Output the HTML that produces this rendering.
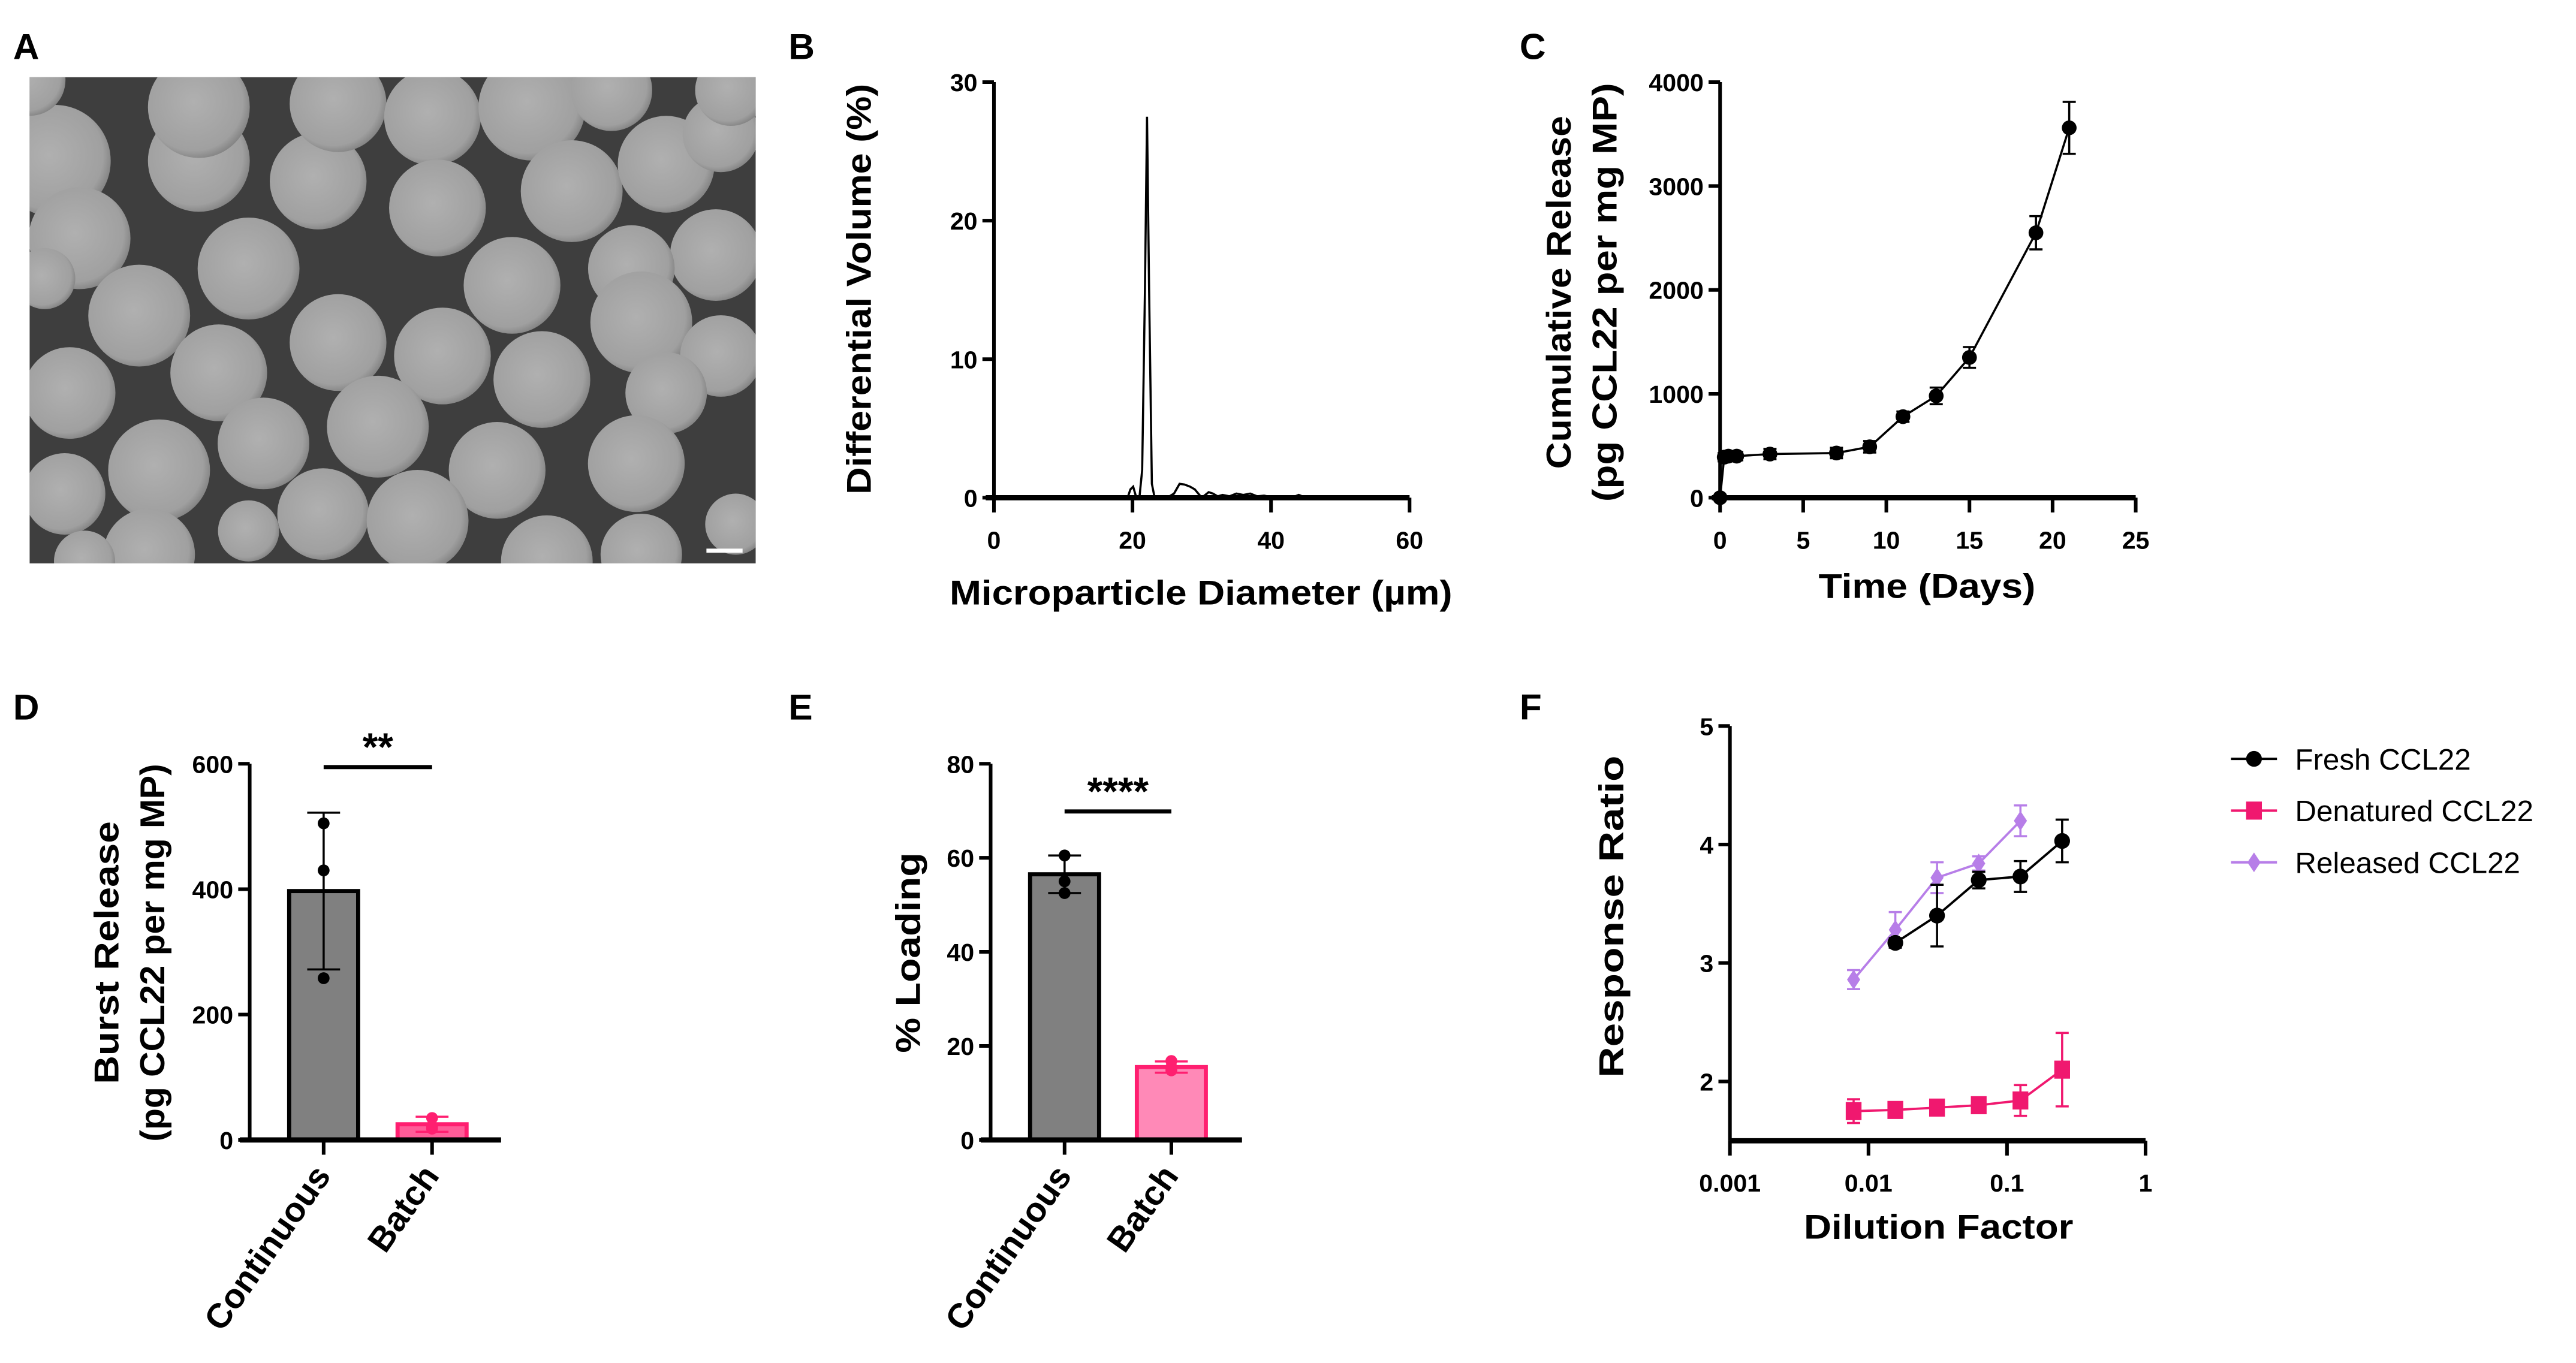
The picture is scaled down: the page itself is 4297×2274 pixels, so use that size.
<!DOCTYPE html>
<html><head><meta charset="utf-8"><style>
html,body{margin:0;padding:0;background:#fff;}
svg{display:block;}
text{font-family:"Liberation Sans",Arial,sans-serif;}
</style></head><body>
<svg id="fig" width="4297" height="2274" viewBox="0 0 1568 829.8" preserveAspectRatio="none" xmlns="http://www.w3.org/2000/svg">
<defs>
<radialGradient id="sph" cx="0.45" cy="0.45" r="0.6">
<stop offset="0" stop-color="#b0b0b0"/><stop offset="0.8" stop-color="#a0a0a0"/><stop offset="1" stop-color="#7a7a7a"/>
</radialGradient>
<clipPath id="clipA"><rect x="18" y="47" width="442" height="296"/></clipPath>
</defs>
</svg>
<script>
// ---------- DATA ----------
// Panel A sphere centres (from SEM image, zoom coords)
const sphX=[400,400,110,160,500,640,680,870,880,1070,1150,1340,1450,1440,1030,1270,1290,1450,1340,680,890,1090,280,440,140,530,760,320,130,1000,1280,650,840,500,300,1100,1290,1480,170,1230,60,1470,90];
const sphY=[300,140,300,530,620,360,130,170,440,140,390,310,220,580,670,620,780,880,990,840,880,950,760,930,990,1140,1090,1220,1290,1220,1200,1350,1370,1400,1470,1490,1470,1380,1490,90,60,90,650];
const sphR=[100,100,110,100,100,95,95,95,95,105,100,95,75,90,95,85,100,80,80,95,95,95,100,95,90,90,100,100,80,95,95,90,100,60,90,90,80,60,60,80,70,70,60];
// Panel B size distribution
const bX=[0,19.3,19.7,20.1,20.5,21.0,21.4,21.8,22.1,22.4,22.8,23.2,25,26,26.8,27.5,28.3,29,30,31,31.6,32.3,33,34,35,36,37,38,39,40,41,43,44,45,47];
const bY=[0,0,0.6,0.8,0.1,0,2,15,27.5,15,1,0,0,0.3,1.0,0.95,0.8,0.6,0,0.4,0.3,0.1,0.2,0.1,0.3,0.2,0.3,0.1,0.15,0.05,0,0,0.2,0,0];
const bXTicks=[0,20,40,60];
const bYTicks=[0,10,20,30];
// Panel C cumulative release
const cDays=[0,0.25,0.5,1,3,7,9,11,13,15,19,21];
const cRel=[0,390,400,400,420,430,490,780,980,1350,2550,3560];
const cErr=[0,40,40,40,50,50,55,50,80,100,160,250];
const cXTicks=[0,5,10,15,20,25];
const cYTicks=[0,1000,2000,3000,4000];
// Panel D burst release
const groups=["Continuous","Batch"];
const dMean=[397,25];
const dSD=[125,12];
const dPts=[[505,430,258],[35,22,18]];
const dYTicks=[0,200,400,600];
// Panel E loading
const eMean=[56.5,15.5];
const eSD=[4,1.2];
const ePts=[[60.5,55,52.5],[16.8,15.5,14.8]];
const eYTicks=[0,20,40,60,80];
// Panel F dose response
const fDil=[0.0078125,0.015625,0.03125,0.0625,0.125,0.25];
const fFresh=[null,3.17,3.40,3.70,3.73,4.03];
const fFreshErr=[0,0.04,0.26,0.07,0.13,0.18];
const fDen=[1.75,1.76,1.78,1.80,1.84,2.10];
const fDenErr=[0.10,0.06,0.03,0.05,0.13,0.31];
const fRel=[2.86,3.28,3.72,3.84,4.20,null];
const fRelErr=[0.08,0.15,0.13,0.06,0.13,0];
const fXTicks=[0.001,0.01,0.1,1];
const fXLabels=["0.001","0.01","0.1","1"];
const fYTicks=[2,3,4,5];
const fSeriesNames=["Fresh CCL22","Denatured CCL22","Released CCL22"];

// ---------- HELPERS ----------
const NS="http://www.w3.org/2000/svg";
const svg=document.getElementById('fig');
function mk(tag,attrs,parent,txt){const e=document.createElementNS(NS,tag);for(const k in attrs)e.setAttribute(k,attrs[k]);if(txt!==undefined)e.textContent=txt;(parent||svg).appendChild(e);return e;}
function lin(d0,d1,r0,r1){return v=>r0+(v-d0)*(r1-r0)/(d1-d0);}
const AX=2.2, TICKF=15, TITLEF=21;

function panelLabel(t,x,y){const e=mk('text',{x:x,y:y,'font-size':22,'font-weight':'bold'},svg,t);

}

function yAxis(g,x,sy,ticks,y0,y1,labels){
 const a=mk('line',{x1:x,x2:x,y1:y0,y2:y1,stroke:'#000','stroke-width':AX},g);
 
 
 ticks.forEach((t,i)=>{const y=sy(t);
  mk('line',{x1:x-7,x2:x,y1:y,y2:y,stroke:'#000','stroke-width':AX},g);
  const l=mk('text',{x:x-10,y:y+5.5,'font-size':TICKF,'font-weight':'bold','text-anchor':'end'},g,labels?labels[i]:t);
  
  });
}
function xAxis(g,y,sx,ticks,x0,x1,labels,noLabels){
 const a=mk('line',{x1:x0,x2:x1,y1:y,y2:y,stroke:'#000','stroke-width':AX+1},g);
 
 
 ticks.forEach((t,i)=>{const x=sx(t);
  mk('line',{x1:x,x2:x,y1:y,y2:y+9,stroke:'#000','stroke-width':AX},g);
  if(!noLabels){const l=mk('text',{x:x,y:y+31,'font-size':TICKF,'font-weight':'bold','text-anchor':'middle'},g,labels?labels[i]:t);
  
  }});
}
function ytitle(g,lines,x,cy,name,lens){
 lines.forEach((s,i)=>{const t=mk('text',{x:0,y:0,'font-size':TITLEF,'font-weight':'bold','text-anchor':'middle',textLength:lens[i],lengthAdjust:'spacingAndGlyphs',transform:`translate(${x+i*28},${cy}) rotate(-90)`},g,s);
 
 });
}
function xtitle(g,s,cx,y,name,len){const t=mk('text',{x:cx,y:y,'font-size':TITLEF,'font-weight':'bold','text-anchor':'middle',textLength:len,lengthAdjust:'spacingAndGlyphs'},g,s);
 
 }
function errbar(g,x,y1,y2,col,w,cap){
 mk('line',{x1:x,x2:x,y1:y1,y2:y2,stroke:col,'stroke-width':w},g);
 mk('line',{x1:x-cap,x2:x+cap,y1:y1,y2:y1,stroke:col,'stroke-width':w},g);
 mk('line',{x1:x-cap,x2:x+cap,y1:y2,y2:y2,stroke:col,'stroke-width':w},g);
}

// ---------- PANEL A ----------
panelLabel('A',8,36);
const gA=mk('g',{'clip-path':'url(#clipA)'});


mk('rect',{x:18,y:47,width:442,height:296,fill:'#3e3e3e'},gA);
sphX.forEach((zx,i)=>{const c=mk('circle',{cx:zx*0.3026,cy:36.5+sphY[i]*0.2048,r:sphR[i]*0.31,fill:'url(#sph)'},gA);
 
 });
const sb=mk('rect',{x:430,y:334,width:22,height:2.5,fill:'#fff'},gA);



// ---------- PANEL B ----------
panelLabel('B',480,36);
const gB=mk('g',{});


const bsx=lin(0,60,605,858), bsy=lin(0,30,303,50);
const bp=mk('polyline',{points:bX.map((x,i)=>bsx(x)+','+bsy(bY[i])).join(' '),fill:'none',stroke:'#000','stroke-width':1.3},gB);


yAxis(gB,605,bsy,bYTicks,303,50);
xAxis(gB,303,bsx,bXTicks,600,858);
ytitle(gB,['Differential Volume (%)'],530,176,'y-axis-title',[250]);
xtitle(gB,'Microparticle Diameter (µm)',731,368,'x-axis-title',306);

// ---------- PANEL C ----------
panelLabel('C',925,36);
const gC=mk('g',{});


const csx=lin(0,25,1047,1300), csy=lin(0,4000,303,50);
cDays.forEach((d,i)=>{if(cErr[i]>0)errbar(gC,csx(d),csy(cRel[i]+cErr[i]),csy(cRel[i]-cErr[i]),'#000',1.3,4);});
const cl=mk('polyline',{points:cDays.map((d,i)=>csx(d)+','+csy(cRel[i])).join(' '),fill:'none',stroke:'#000','stroke-width':1.3},gC);


cDays.forEach((d,i)=>{const c=mk('circle',{cx:csx(d),cy:csy(cRel[i]),r:4.5,fill:'#000'},gC);
 
 });
yAxis(gC,1047,csy,cYTicks,303,50);
xAxis(gC,303,csx,cXTicks,1042,1300);
ytitle(gC,['Cumulative Release','(pg CCL22 per mg MP)'],956,178,'y-axis-title',[215,255]);
xtitle(gC,'Time (Days)',1173,364,'x-axis-title',132);

// ---------- BAR PANELS ----------
function barPanel(name,axX,ymax,mean,sd,pts,ticks,centers,sigY,sigTxt,titleLines,titleX,titleCy,lens){
 const g=mk('g',{});
 
 
 const sy=lin(0,ymax,694,465);
 const fills=['#808080',name==='panel-d-chart'?'#ff5c98':'#ff89b7'];
 const strokes=['#000','#ff1f70'];
 groups.forEach((gname,i)=>{const cx=centers[i];
  const r=mk('rect',{x:cx-21,y:sy(mean[i]),width:42,height:694-sy(mean[i]),fill:fills[i],stroke:strokes[i],'stroke-width':2.5},g);
  
  
  errbar(g,cx,sy(mean[i]+sd[i]),sy(mean[i]-sd[i]),strokes[i],1.3,10);
  pts[i].forEach(v=>{const c=mk('circle',{cx:cx,cy:sy(v),r:3.6,fill:strokes[i]},g);
   
   });
  const t=mk('text',{x:0,y:0,'font-size':TITLEF,'font-weight':'bold','text-anchor':'end',transform:`translate(${cx+5},${716}) rotate(-55)`},g,gname);
  
  
 });
 yAxis(g,axX,sy,ticks,694,465);
 xAxis(g,694,v=>v,centers,axX-6,axX+153,null,true);
 const sl=mk('line',{x1:centers[0],x2:centers[1],y1:sigY,y2:sigY,stroke:'#000','stroke-width':2.5},g);
 
 
 const st=mk('text',{x:(centers[0]+centers[1])/2,y:sigY-4,'font-size':24,'font-weight':'bold','text-anchor':'middle'},g,sigTxt);
 
 
 ytitle(g,titleLines,titleX,titleCy,'y-axis-title',lens);
}
panelLabel('D',8,438);
barPanel('panel-d-chart',152,600,dMean,dSD,dPts,dYTicks,[197,263],467,'**',['Burst Release','(pg CCL22 per mg MP)'],72,580,[160,230]);
panelLabel('E',480,438);
barPanel('panel-e-chart',603,80,eMean,eSD,ePts,eYTicks,[648,713],494,'****',['% Loading'],560,580,[122]);

// ---------- PANEL F ----------
panelLabel('F',925,438);
const gF=mk('g',{});


const fsx=v=>1053+(Math.log10(v)+3)*84.33, fsy=lin(1.5,5,694.5,442);
function series(vals,errs,col,shape,sname){
 const g=mk('g',{},gF);
 
 
 fDil.forEach((d,i)=>{if(vals[i]!==null)errbar(g,fsx(d),fsy(vals[i]+errs[i]),fsy(vals[i]-errs[i]),col,1.3,4);});
 const pts=fDil.map((d,i)=>vals[i]===null?null:fsx(d)+','+fsy(vals[i])).filter(p=>p);
 mk('polyline',{points:pts.join(' '),fill:'none',stroke:col,'stroke-width':1.4},g);
 fDil.forEach((d,i)=>{if(vals[i]===null)return;const x=fsx(d),y=fsy(vals[i]);let m;
  if(shape==='c')m=mk('circle',{cx:x,cy:y,r:4.8,fill:col},g);
  else if(shape==='s')m=mk('rect',{x:x-4.8,y:y-5.5,width:9.6,height:11,fill:col},g);
  else m=mk('polygon',{points:`${x},${y-6} ${x+4},${y} ${x},${y+6} ${x-4},${y}`,fill:col},g);
  
  });
}
series(fRel,fRelErr,'#b77ee8','d','released');
series(fFresh,fFreshErr,'#000','c','fresh');
series(fDen,fDenErr,'#f0186f','s','denatured');
yAxis(gF,1053,fsy,fYTicks,694.5,442);
xAxis(gF,694.5,fsx,fXTicks,1053,1306,fXLabels);
ytitle(gF,['Response Ratio'],988,558,'y-axis-title',[196]);
xtitle(gF,'Dilution Factor',1180,754,'x-axis-title',164);
// legend
const legCols=['#000','#f0186f','#b77ee8'], legShapes=['c','s','d'];
fSeriesNames.forEach((n,i)=>{const y=462+i*31.5;
 const g=mk('g',{});
 
 
 mk('line',{x1:1358,x2:1386,y1:y,y2:y,stroke:legCols[i],'stroke-width':1.5},g);
 const x=1372;
 if(legShapes[i]==='c')mk('circle',{cx:x,cy:y,r:4.8,fill:legCols[i]},g);
 else if(legShapes[i]==='s')mk('rect',{x:x-4.8,y:y-5.5,width:9.6,height:11,fill:legCols[i]},g);
 else mk('polygon',{points:`${x},${y-6} ${x+4},${y} ${x},${y+6} ${x-4},${y}`,fill:legCols[i]},g);
 mk('text',{x:1397,y:y+6.5,'font-size':18},g,n);
});
</script>
</body></html>
